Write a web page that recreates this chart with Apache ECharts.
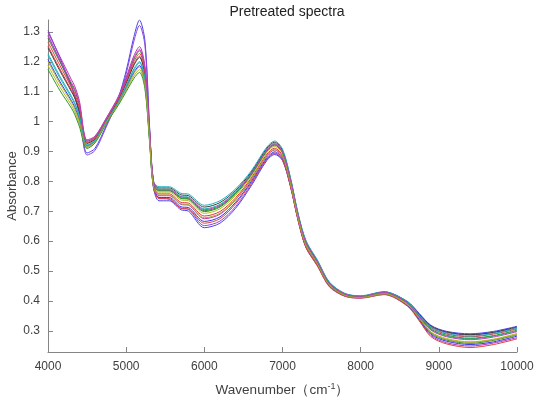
<!DOCTYPE html>
<html>
<head>
<meta charset="utf-8">
<script src="https://cdn.jsdelivr.net/npm/echarts@6/dist/echarts.min.js"></script>
<style>
html,body{margin:0;padding:0;background:#fff;}
#chart{width:535px;height:403px;}
</style>
</head>
<body>
<div id="chart"></div>
<script>
// Wavenumber grid (cm^-1)
const wavenumbers = [4000,4150,4300,4340,4400,4500,4600,4750,4900,5000,5100,5170,5240,5300,5350,5420,5550,5700,5800,6000,6200,6400,6600,6800,6900,7000,7100,7200,7300,7450,7600,7800,8000,8300,8600,8750,8900,9100,9400,9700,10000];

// Spectra
const spectrum01 = [1.305,1.215,1.12,1.09,1.03,0.895,0.91,0.99,1.08,1.17,1.285,1.34,1.27,0.98,0.78,0.735,0.735,0.705,0.70,0.645,0.66,0.71,0.785,0.87,0.89,0.87,0.785,0.67,0.58,0.52,0.452,0.42,0.415,0.43,0.398,0.358,0.318,0.298,0.29,0.298,0.315];
const spectrum02 = [1.29,1.205,1.115,1.085,1.025,0.888,0.903,0.985,1.075,1.16,1.27,1.322,1.255,0.975,0.782,0.745,0.74,0.71,0.706,0.652,0.667,0.716,0.79,0.874,0.893,0.872,0.788,0.672,0.582,0.519,0.45,0.419,0.414,0.429,0.396,0.355,0.314,0.294,0.286,0.294,0.31];
const spectrum03 = [1.279,1.201,1.125,1.105,1.057,0.934,0.947,1.011,1.079,1.140,1.209,1.237,1.174,0.962,0.799,0.768,0.768,0.743,0.740,0.699,0.714,0.758,0.821,0.901,0.921,0.895,0.805,0.684,0.594,0.528,0.457,0.422,0.414,0.428,0.390,0.340,0.292,0.269,0.258,0.268,0.286];
const spectrum04 = [1.253,1.177,1.105,1.085,1.039,0.928,0.942,1.007,1.073,1.130,1.193,1.219,1.158,0.954,0.790,0.758,0.758,0.730,0.727,0.684,0.699,0.745,0.811,0.891,0.911,0.886,0.797,0.678,0.588,0.523,0.453,0.419,0.412,0.425,0.391,0.351,0.310,0.289,0.280,0.289,0.306];
const spectrum05 = [1.221,1.147,1.080,1.060,1.017,0.921,0.936,1.002,1.066,1.118,1.173,1.197,1.138,0.944,0.793,0.774,0.774,0.750,0.747,0.708,0.723,0.765,0.827,0.907,0.927,0.901,0.809,0.687,0.597,0.531,0.460,0.423,0.415,0.429,0.394,0.347,0.304,0.282,0.273,0.282,0.299];
const spectrum06 = [1.299,1.219,1.140,1.120,1.071,0.939,0.951,1.014,1.084,1.148,1.221,1.251,1.186,0.968,0.794,0.752,0.752,0.723,0.720,0.675,0.690,0.738,0.805,0.885,0.905,0.881,0.793,0.674,0.584,0.520,0.451,0.418,0.411,0.424,0.385,0.335,0.284,0.260,0.249,0.259,0.277];
const spectrum07 = [1.188,1.117,1.055,1.035,0.994,0.913,0.930,0.997,1.058,1.105,1.153,1.174,1.118,0.934,0.783,0.764,0.764,0.738,0.735,0.693,0.708,0.753,0.817,0.897,0.917,0.892,0.802,0.681,0.591,0.526,0.456,0.421,0.413,0.427,0.390,0.343,0.296,0.274,0.263,0.272,0.291];
const spectrum08 = [1.247,1.171,1.100,1.080,1.035,0.927,0.941,1.006,1.072,1.128,1.189,1.215,1.154,0.952,0.799,0.778,0.778,0.755,0.752,0.714,0.729,0.770,0.831,0.911,0.931,0.904,0.812,0.690,0.600,0.533,0.461,0.424,0.416,0.430,0.396,0.355,0.316,0.296,0.287,0.295,0.313];
const spectrum09 = [1.208,1.135,1.070,1.050,1.008,0.918,0.934,1.000,1.063,1.113,1.165,1.188,1.130,0.940,0.777,0.746,0.746,0.715,0.712,0.666,0.681,0.730,0.799,0.879,0.899,0.876,0.788,0.670,0.580,0.517,0.449,0.416,0.410,0.422,0.384,0.338,0.288,0.265,0.254,0.263,0.282];
const spectrum10 = [1.175,1.105,1.045,1.025,0.985,0.910,0.928,0.995,1.055,1.100,1.145,1.165,1.110,0.930,0.784,0.770,0.770,0.745,0.742,0.702,0.717,0.760,0.823,0.903,0.923,0.897,0.806,0.685,0.595,0.529,0.458,0.422,0.415,0.428,0.393,0.349,0.306,0.285,0.275,0.284,0.302];
const spectrum11 = [1.266,1.189,1.115,1.095,1.048,0.931,0.945,1.009,1.076,1.135,1.201,1.228,1.166,0.958,0.784,0.742,0.742,0.710,0.707,0.660,0.675,0.725,0.795,0.875,0.895,0.872,0.785,0.668,0.578,0.515,0.447,0.415,0.409,0.421,0.382,0.333,0.280,0.256,0.244,0.254,0.273];
const spectrum12 = [1.227,1.153,1.085,1.065,1.021,0.922,0.938,1.003,1.067,1.120,1.177,1.201,1.142,0.946,0.798,0.782,0.782,0.760,0.757,0.720,0.735,0.775,0.835,0.915,0.935,0.908,0.815,0.692,0.602,0.535,0.463,0.425,0.417,0.431,0.397,0.352,0.312,0.291,0.282,0.291,0.308];
const spectrum13 = [1.286,1.207,1.130,1.110,1.062,0.936,0.948,1.012,1.081,1.143,1.213,1.242,1.178,0.964,0.802,0.772,0.772,0.748,0.745,0.705,0.720,0.763,0.825,0.905,0.925,0.899,0.808,0.686,0.596,0.530,0.459,0.423,0.415,0.429,0.393,0.346,0.302,0.280,0.270,0.279,0.297];
const spectrum14 = [1.201,1.129,1.065,1.045,1.003,0.916,0.933,0.999,1.061,1.110,1.161,1.183,1.126,0.938,0.780,0.754,0.754,0.725,0.722,0.678,0.693,0.740,0.807,0.887,0.907,0.883,0.794,0.675,0.585,0.521,0.452,0.418,0.411,0.424,0.387,0.341,0.294,0.271,0.261,0.270,0.288];

const xTicks = [4000,5000,6000,7000,8000,9000,10000];
const yTicks = [0.3,0.4,0.5,0.6,0.7,0.8,0.9,1,1.1,1.2,1.3];

const spectra = [spectrum01,spectrum02,spectrum03,spectrum04,spectrum05,spectrum06,spectrum07,spectrum08,spectrum09,spectrum10,spectrum11,spectrum12,spectrum13,spectrum14];
const colors = ['#4a44f0','#8a48d8','#1f8a1f','#e83030','#19b5b5','#b832b8','#b8b820','#404040','#3434e8','#2a962a','#e04040','#22b0c0','#c040c0','#a8a830'];

const chart = echarts.init(document.getElementById('chart'), null, {renderer:'canvas'});
const axisColor = '#858585';
const labelColor = '#404040';
const font = 'Liberation Sans, Arial, sans-serif';

chart.setOption({
  animation: false,
  backgroundColor: '#ffffff',
  title: {
    text: 'Pretreated spectra',
    left: 282, top: 0, textAlign: 'center',
    textStyle: {fontSize: 14, fontWeight: 'normal', color: '#222', fontFamily: font}
  },
  grid: {left: 48, right: 18, top: 20, bottom: 51, containLabel: false, outerBoundsMode: 'none'},
  xAxis: {
    type: 'value', min: 4000, max: 10000, interval: 1000,
    name: 'Wavenumber（cm{sup|-1}）',
    nameLocation: 'middle', nameGap: 30, nameMoveOverlap: false,
    nameTextStyle: {fontSize: 13.5, color: labelColor, fontFamily: font,
      rich: {sup: {fontSize: 9, verticalAlign: 'top', padding: [0,0,8,0], color: labelColor, fontFamily: font}}},
    axisLine: {show: true, lineStyle: {color: axisColor, width: 1}},
    axisTick: {show: true, inside: true, length: 5, customValues: xTicks, lineStyle: {color: axisColor}},
    axisLabel: {color: labelColor, fontSize: 12, fontFamily: font, margin: 9, customValues: xTicks,
      formatter: v => String(v)},
    splitLine: {show: false}
  },
  yAxis: {
    type: 'value', min: 0.229, max: 1.34,
    name: 'Absorbance', nameLocation: 'middle', nameGap: 29, nameRotate: 90, nameMoveOverlap: false,
    nameTextStyle: {fontSize: 13, color: labelColor, fontFamily: font},
    axisLine: {show: true, lineStyle: {color: axisColor, width: 1}},
    axisTick: {show: true, inside: true, length: 5, customValues: yTicks, lineStyle: {color: axisColor}},
    axisLabel: {color: labelColor, fontSize: 12, fontFamily: font, margin: 8, customValues: yTicks,
      formatter: v => String(Math.round(v*10)/10)},
    splitLine: {show: false}
  },
  series: spectra.map((s, i) => ({
    type: 'line',
    data: wavenumbers.map((w, j) => [w, s[j]]),
    showSymbol: false,
    smooth: 0.3,
    lineStyle: {width: 1, color: colors[i]},
    itemStyle: {color: colors[i]},
    z: 2
  }))
});
</script>
</body>
</html>
